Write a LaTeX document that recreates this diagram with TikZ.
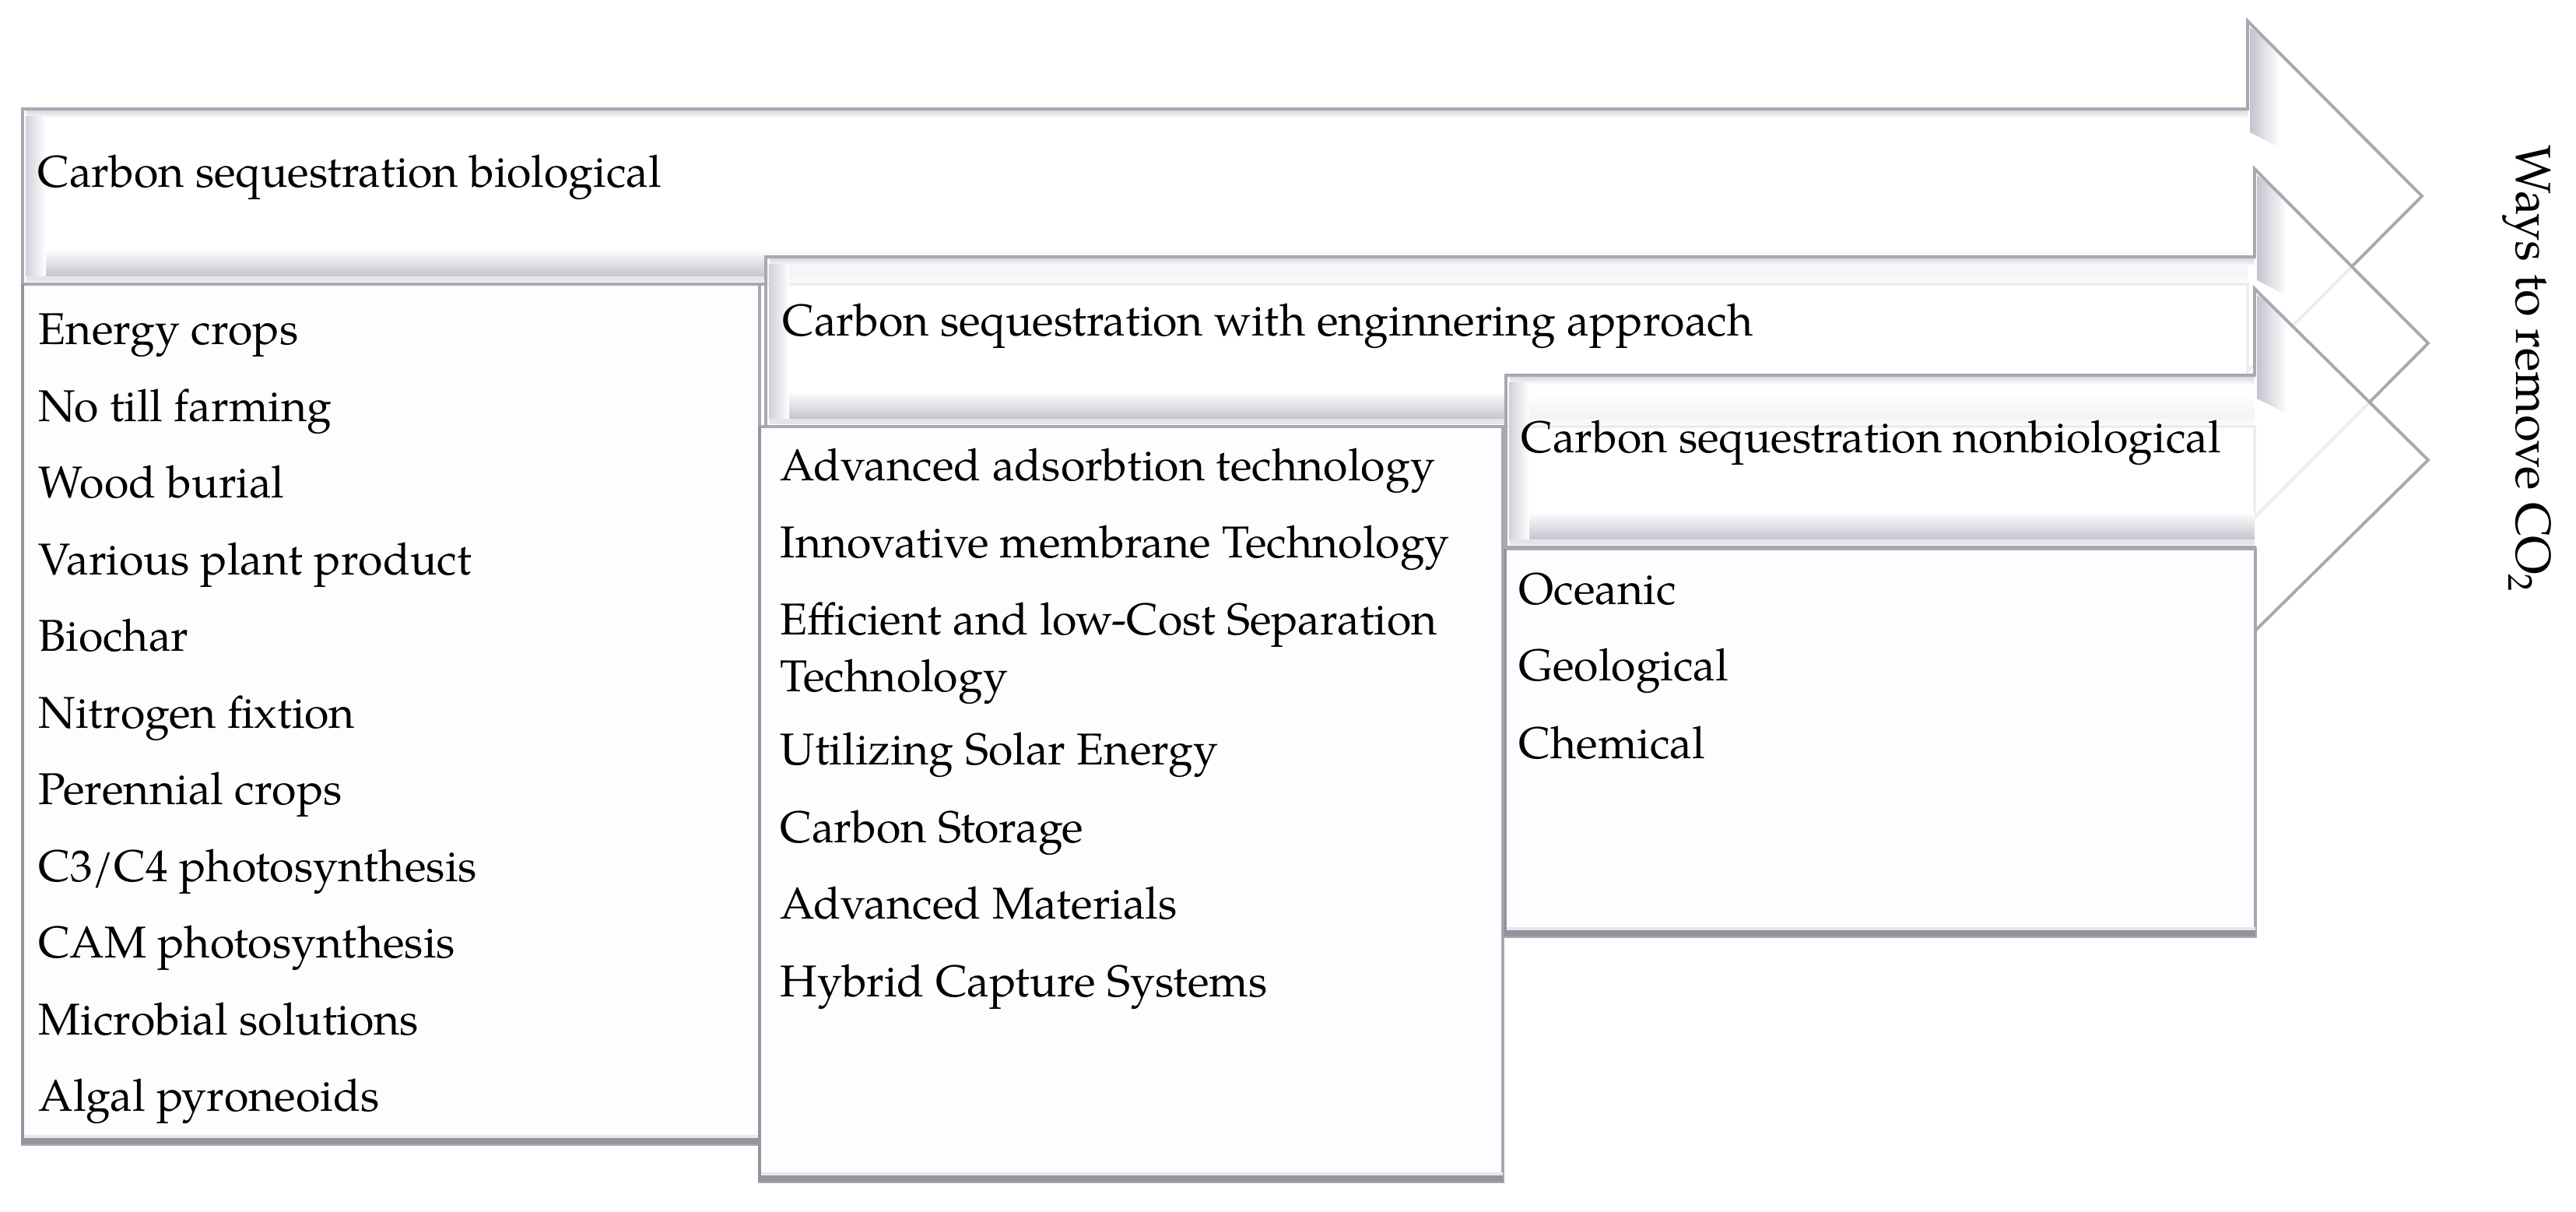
\documentclass[tikz,border=0pt]{standalone}
\usepackage{fontspec}
\setmainfont{TeX Gyre Pagella}
\usetikzlibrary{positioning}

\definecolor{rimgray}{RGB}{168,168,176}
\definecolor{deepgray}{RGB}{148,148,156}
\definecolor{bevelgray}{RGB}{196,196,208}
\definecolor{paper}{RGB}{253,252,255}

\newcommand{\itemfont}{\fontsize{16.3}{21}\selectfont}

% bevelled arrow: x0, shaft bottom, shaft top, head back, head bottom, head top, tip x, tip y
\newcommand{\wayarrow}[8]{%
  \fill[white, fill opacity=0.8] (#1,#3) -- (#4,#3) -- (#4,#6) -- (#7,#8) -- (#4,#5) -- (#4,#2) -- (#1,#2) -- cycle;
  \shade[top color=white, bottom color=bevelgray] (#1+0.05,#2+0.1) rectangle (#4,#2+0.45);
  \fill[bevelgray!45] (#1+0.05,#2+0.03) rectangle (#4,#2+0.1);
  \shade[top color=bevelgray!60, bottom color=white] (#1+0.05,#3-0.12) rectangle (#4,#3-0.03);
  \shade[left color=bevelgray!80, right color=white] (#1+0.04,#2+0.1) rectangle (#1+0.3,#3-0.1);
  \shade[left color=bevelgray, right color=white] (#4+0.03,#6-0.08) -- (#4+0.42,#6-0.35) -- (#4+0.42,#3-0.5) -- (#4+0.03,#3-0.3) -- cycle;
  \draw[rim] (#1,#3) -- (#4,#3) -- (#4,#6) -- (#7,#8) -- (#4,#5) -- (#4,#2) -- (#1,#2) -- cycle;
}

% list box: x0, bottom, x1, top
\newcommand{\itembox}[4]{%
  \draw[listbox] (#1,#2) rectangle (#3,#4);
  \fill[bevelgray!40] (#1,#2+0.07) rectangle (#3,#2+0.12);
  \draw[deepgray, line width=2.4pt] (#1,#2+0.04) -- (#3,#2+0.04);
  \draw[deepgray, line width=1.3pt] (#1,#2) -- (#1,#4);
}

\begin{document}
\begin{tikzpicture}[
    rim/.style={draw=rimgray, line width=1.1pt, line join=miter},
    listbox/.style={draw=rimgray, line width=1pt, fill=paper},
    heading/.style={anchor=base west, inner sep=0pt, font=\itemfont},
    entry/.style={anchor=base west, inner sep=0pt, font=\itemfont, align=left}
  ]
    \useasboundingbox (0,0) rectangle (33.10,15.57);
    \fill[white] (0,0) rectangle (33.10,15.57);

    % arrows and their lists
    \wayarrow{0.29}{11.92}{14.17}{28.88}{10.80}{15.30}{31.12}{13.05}
    \itembox{0.29}{0.87}{9.76}{11.92}
    \wayarrow{9.84}{10.09}{12.27}{28.97}{8.92}{13.40}{31.20}{11.16}
    \itembox{9.76}{0.39}{19.31}{10.09}
    \wayarrow{19.35}{8.54}{10.75}{28.97}{7.46}{11.86}{31.20}{9.66}
    \itembox{19.34}{3.54}{28.98}{8.52}

    % headings
    \node[heading] (bio) at (0.48,13.16) {Carbon sequestration biological};
    \node[heading] (eng) at (10.05,11.25) {Carbon sequestration with enginnering approach};
    \node[heading] (nonbio) at (19.54,9.75) {Carbon sequestration nonbiological};

    % biological
    \node[entry] (energy) at (0.49,11.14) {Energy crops};
    \node[entry] (notill) at (0.49,10.155) {No till farming};
    \node[entry] (wood) at (0.49,9.17) {Wood burial};
    \node[entry] (plant) at (0.49,8.185) {Various plant product};
    \node[entry] (biochar) at (0.49,7.20) {Biochar};
    \node[entry] (nitro) at (0.49,6.215) {Nitrogen fixtion};
    \node[entry] (perennial) at (0.49,5.23) {Perennial crops};
    \node[entry] (cthree) at (0.49,4.245) {C3/C4 photosynthesis};
    \node[entry] (cam) at (0.49,3.26) {CAM photosynthesis};
    \node[entry] (microbe) at (0.49,2.275) {Microbial solutions};
    \node[entry] (algal) at (0.49,1.29) {Algal pyroneoids};

    % engineering (two-line entry sits on its last line)
    \node[entry] (adsorb) at (10.02,9.39) {Advanced adsorbtion technology};
    \node[entry] (membrane) at (10.02,8.405) {Innovative membrane Technology};
    \node[entry] (separate) at (10.02,6.68) {Efficient and low-Cost Separation\\Technology};
    \node[entry] (solar) at (10.02,5.74) {Utilizing Solar Energy};
    \node[entry] (storage) at (10.02,4.745) {Carbon Storage};
    \node[entry] (material) at (10.02,3.76) {Advanced Materials};
    \node[entry] (hybrid) at (10.02,2.76) {Hybrid Capture Systems};

    % nonbiological
    \node[entry] (ocean) at (19.51,7.80) {Oceanic};
    \node[entry] (geo) at (19.51,6.82) {Geological};
    \node[entry] (chem) at (19.51,5.82) {Chemical};

    \node[entry, rotate=-90, font=\fontsize{18}{22}\selectfont] (ways) at (32.33,13.71) {Ways to remove CO\textsubscript{2}};
\end{tikzpicture}
\end{document}
